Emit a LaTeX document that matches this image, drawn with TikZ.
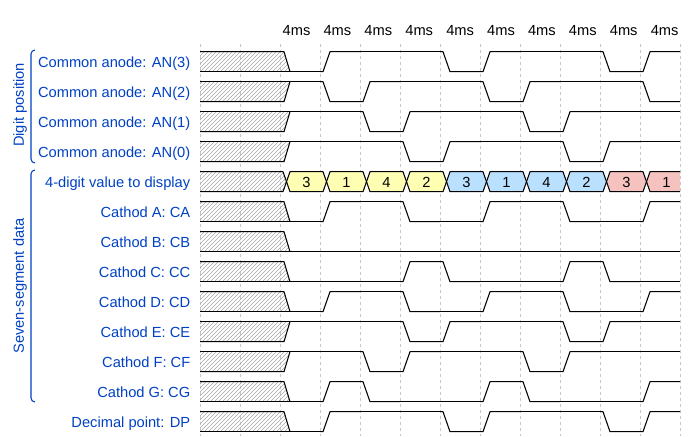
\documentclass[tikz,border=0pt]{standalone}
\usepackage{fontspec}
\setmainfont{Liberation Sans}
\usetikzlibrary{patterns}

\definecolor{lblblue}{RGB}{0,65,196}
\definecolor{datyellow}{RGB}{255,255,180}
\definecolor{datblue}{RGB}{185,224,255}
\definecolor{datred}{RGB}{245,194,192}

\tikzset{
  sigline/.style={line width=0.8pt, line join=round},
  gridline/.style={gray!45, line width=0.5pt, dash pattern=on 2.25pt off 2.25pt},
  siglabel/.style={anchor=base east, text=lblblue, inner sep=0pt},
  grouplabel/.style={rotate=90, text=lblblue, inner sep=0pt},
  groupbrace/.style={draw=lblblue, line width=0.8pt, rounded corners=3pt},
  hatchfill/.style={pattern=north east lines, pattern color=gray!70},
}

% #1 row top, #2 level in the first shown cycle, #3 levels of the ten cycles
\newcommand{\drawwave}[3]{%
  \ifnum#2=0
    \fill[hatchfill] (200,#1) -- (284,#1) -- (290,#1+20) -- (200,#1+20) -- cycle;
    \draw[sigline] (200,#1) -- (284,#1) -- (290,#1+20);
    \draw[sigline] (200,#1+20) -- (290,#1+20);
  \else
    \fill[hatchfill] (200,#1) -- (290,#1) -- (284,#1+20) -- (200,#1+20) -- cycle;
    \draw[sigline] (200,#1+20) -- (284,#1+20) -- (290,#1);
    \draw[sigline] (200,#1) -- (290,#1);
  \fi
  \foreach \lv [count=\c from 2, remember=\lv as \pv (initially #2)] in {#3} {
    \pgfmathsetmacro{\xa}{200+40*\c}
    \draw[sigline] (\xa,#1+20-20*\pv) -- (\xa+3,#1+20-20*\pv)
      -- (\xa+10,#1+20-20*\lv) -- (\xa+40,#1+20-20*\lv);
  }
}

\begin{document}
\begin{tikzpicture}[x=0.75pt, y=-0.75pt, font=\fontsize{11}{13}\selectfont]
  \useasboundingbox (0,0) rectangle (700,436);

  % grid
  \foreach \gx in {200,240,...,680}
    \draw[gridline] (\gx,44) -- (\gx,436);

  % time marks
  \foreach \i in {0,...,9}
    \node[anchor=base, inner sep=0pt] (tick\i) at (296.5+40.9*\i,35) {4ms};

  % signal names
  \foreach \txt [count=\r from 0] in {{Common anode: AN(3)}, {Common anode: AN(2)},
      {Common anode: AN(1)}, {Common anode: AN(0)}, {4-digit value to display},
      {Cathod A: CA}, {Cathod B: CB}, {Cathod C: CC}, {Cathod D: CD},
      {Cathod E: CE}, {Cathod F: CF}, {Cathod G: CG}, {Decimal point: DP}}
    \node[siglabel] (lbl\r) at (190.5,67.2+30*\r) {\txt};

  % groups
  \draw[groupbrace] (35,50) -- (31,50) -- (31,163) -- (35,163);
  \node[grouplabel] (grpdigit) at (20,105) {Digit position};
  \draw[groupbrace] (35,170) -- (31,170) -- (31,402) -- (35,402);
  \node[grouplabel] (grpseg) at (20,286) {Seven-segment data};

  % anodes
  \drawwave{51.7}{0}{0,1,1,1,0,1,1,1,0,1}
  \drawwave{81.7}{1}{1,0,1,1,1,0,1,1,1,0}
  \drawwave{111.7}{1}{1,1,0,1,1,1,0,1,1,1}
  \drawwave{141.7}{1}{1,1,1,0,1,1,1,0,1,1}

  % value bus
  \fill[hatchfill] (200,171.7) -- (283,171.7) -- (286.5,181.7) -- (283,191.7) -- (200,191.7) -- cycle;
  \draw[sigline] (200,171.7) -- (283,171.7) -- (286.5,181.7) -- (283,191.7) -- (200,191.7);
  \foreach \d/\col [count=\c from 2] in {3/datyellow,1/datyellow,4/datyellow,2/datyellow,
      3/datblue,1/datblue,4/datblue,2/datblue,3/datred,1/datred} {
    \pgfmathsetmacro{\xa}{200+40*\c}
    \ifnum\c<11
      \filldraw[sigline, fill=\col] (\xa+6.5,181.7) -- (\xa+10,171.7) -- (\xa+43,171.7)
        -- (\xa+46.5,181.7) -- (\xa+43,191.7) -- (\xa+10,191.7) -- cycle;
    \else
      \fill[\col] (\xa+6.5,181.7) -- (\xa+10,171.7) -- (680,171.7) -- (680,191.7) -- (\xa+10,191.7) -- cycle;
      \draw[sigline] (680,171.7) -- (\xa+10,171.7) -- (\xa+6.5,181.7) -- (\xa+10,191.7) -- (680,191.7);
    \fi
    \node[anchor=base, inner sep=0pt] (val\c) at (\xa+26.5,187) {\d};
  }

  % cathodes and point
  \drawwave{201.7}{0}{0,1,1,0,0,1,1,0,0,1}
  \drawwave{231.7}{0}{0,0,0,0,0,0,0,0,0,0}
  \drawwave{261.7}{0}{0,0,0,1,0,0,0,1,0,0}
  \drawwave{291.7}{0}{0,1,1,0,0,1,1,0,0,1}
  \drawwave{321.7}{1}{1,1,1,0,1,1,1,0,1,1}
  \drawwave{351.7}{1}{1,1,0,1,1,1,0,1,1,1}
  \drawwave{381.7}{0}{0,1,0,0,0,1,0,0,0,1}
  \drawwave{411.7}{0}{0,1,1,1,0,1,1,1,0,1}
\end{tikzpicture}
\end{document}
